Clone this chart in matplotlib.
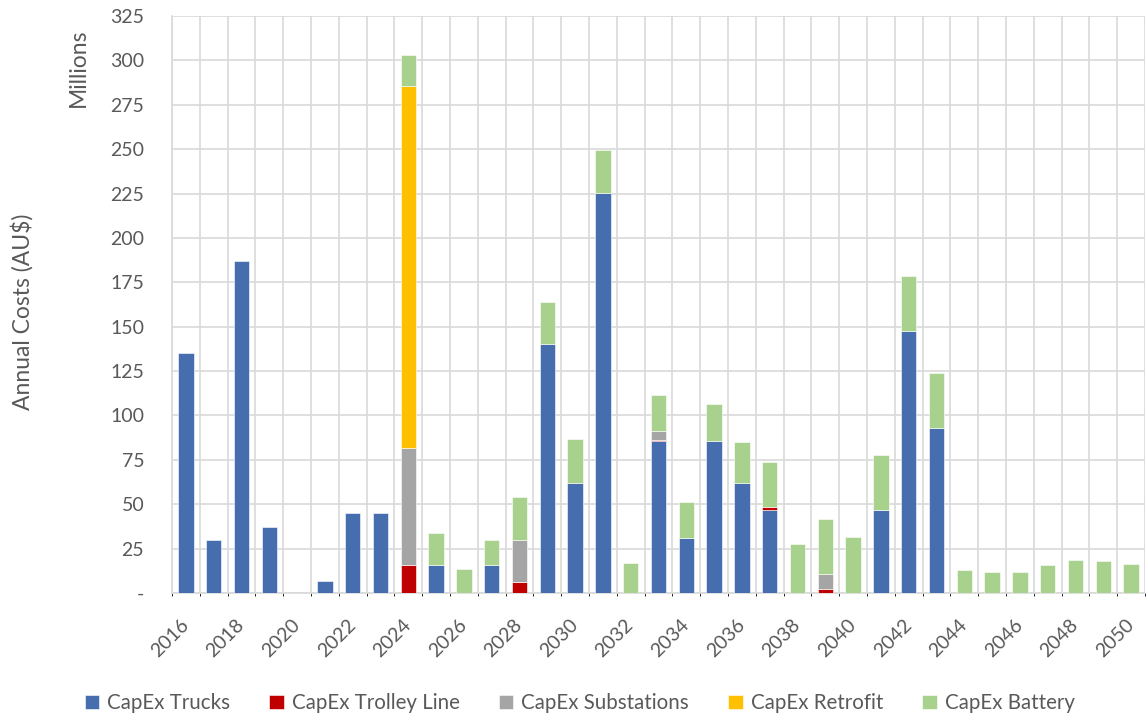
import numpy as np
import matplotlib
matplotlib.use("Agg")
from matplotlib import pyplot as plt
from matplotlib.ticker import FixedLocator

# Annual CapEx by year (millions AU$)
years = list(range(2016, 2051))

trucks = [135, 30, 187, 37, 0, 7, 45, 45, 0, 15.5, 0, 15.5, 0, 140, 62, 225.5,
          0, 85.5, 31, 85.5, 62, 46.7, 0, 0, 0, 46.7, 147.5, 93, 0, 0, 0, 0, 0, 0, 0]
trolley = [0, 0, 0, 0, 0, 0, 0, 0, 15.6, 0, 0, 0, 6, 0, 0, 0,
           0, 0.6, 0, 0, 0, 2, 0, 2.2, 0, 0, 0, 0, 0, 0, 0, 0, 0, 0, 0]
substations = [0, 0, 0, 0, 0, 0, 0, 0, 66.3, 0, 0, 0, 23.7, 0, 0, 0,
               0, 5, 0, 0, 0, 0, 0, 8.3, 0, 0, 0, 0, 0, 0, 0, 0, 0, 0, 0]
retrofit = [0, 0, 0, 0, 0, 0, 0, 0, 203.5, 0, 0, 0, 0, 0, 0, 0,
            0, 0, 0, 0, 0, 0, 0, 0, 0, 0, 0, 0, 0, 0, 0, 0, 0, 0, 0]
battery = [0, 0, 0, 0, 0, 0, 0, 0, 17.7, 18.2, 13.4, 14.4, 24.3, 24, 24.6, 24.2,
           17, 20.3, 20.2, 21, 23.3, 25, 27.7, 31.2, 31.3, 31.3, 31, 31, 12.7, 12, 12,
           16, 18.8, 18.2, 16.2]

series_names = ["CapEx Trucks", "CapEx Trolley Line", "CapEx Substations",
                "CapEx Retrofit", "CapEx Battery"]
series_colors = ["#466EAE", "#C00000", "#A5A5A5", "#FFC000", "#A9D18E"]

plt.rcParams['font.family'] = ['Lato', 'DejaVu Sans']
txt_color = "#595959"

fig = plt.figure(figsize=(11.48, 7.2), dpi=100)
ax = fig.add_axes([172 / 1148, 1 - 593 / 720, (1145 - 172) / 1148, (593 - 16) / 720])

x = np.arange(len(years))
bottom = np.zeros(len(years))
for vals, name, col in zip([trucks, trolley, substations, retrofit, battery],
                           series_names, series_colors):
    vals = np.array(vals, dtype=float)
    shown = np.where(vals > 0, vals, np.nan)  # skip empty segments
    ax.bar(x, shown, width=0.55, bottom=bottom, color=col, label=name,
           edgecolor="white", linewidth=0.4, zorder=3)
    bottom = bottom + vals

ax.set_xlim(-0.5, len(years) - 0.5)
ax.set_ylim(0, 325)

# y axis
yt = np.arange(0, 326, 25)
ax.set_yticks(yt)
ax.set_yticklabels(["-"] + [str(v) for v in yt[1:]], color=txt_color, fontsize=14)

# x axis: label every second year
ax.set_xticks(x[::2])
ax.set_xticklabels([str(y) for y in years[::2]], rotation=45, ha="right", va="center",
                   rotation_mode="anchor", color=txt_color, fontsize=14)
ax.xaxis.set_minor_locator(FixedLocator(np.arange(-0.5, len(years), 1)))

ax.tick_params(axis="y", length=0, pad=20)
ax.tick_params(axis="x", length=0, pad=21)
ax.grid(axis="y", color="#D9D9D9", lw=1.2, zorder=0)
ax.grid(axis="x", which="minor", color="#D9D9D9", lw=1.2, zorder=0)
for s in ["top", "right"]:
    ax.spines[s].set_visible(False)
ax.spines["left"].set_color("#D9D9D9")
ax.spines["left"].set_linewidth(1.2)
ax.spines["bottom"].set_color("#D9D9D9")
ax.spines["bottom"].set_linewidth(1.2)

fig.text(22 / 1148, 1 - 312 / 720, "Annual Costs (AU$)", rotation=90, ha="center",
         va="center", color=txt_color, fontsize=16.5)
fig.text(78 / 1148, 1 - 68 / 720, "Millions", rotation=90, ha="center",
         va="center", color=txt_color, fontsize=16.5)

leg = fig.legend(loc="center", bbox_to_anchor=(0.505, 1 - 703 / 720), ncol=5,
                 frameon=False, fontsize=14.8, handlelength=0.7, handleheight=0.7,
                 columnspacing=1.9, handletextpad=0.4)
for t in leg.get_texts():
    t.set_color(txt_color)

plt.savefig("out.png", dpi=100)
